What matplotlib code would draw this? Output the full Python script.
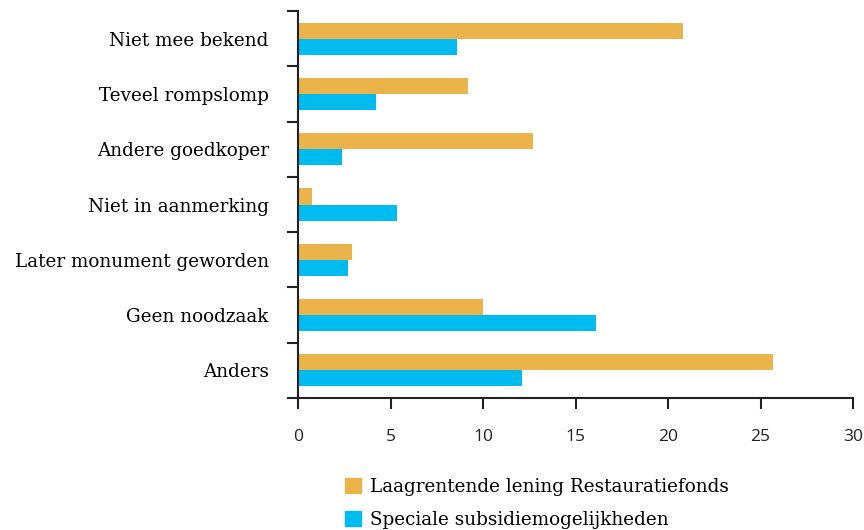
import matplotlib
matplotlib.use("Agg")
import matplotlib.pyplot as plt
import numpy as np
from matplotlib.patches import Patch

categories = ["Niet mee bekend", "Teveel rompslomp", "Andere goedkoper",
              "Niet in aanmerking", "Later monument geworden", "Geen noodzaak", "Anders"]
lening = [20.8, 9.2, 12.7, 0.75, 2.9, 10.0, 25.7]
subsidie = [8.6, 4.2, 2.4, 5.35, 2.7, 16.1, 12.1]
series_names = ["Laagrentende lening Restauratiefonds", "Speciale subsidiemogelijkheden"]
xticks = [0, 5, 10, 15, 20, 25, 30]

c_orange = "#EAB44B"
c_blue = "#00BBF0"
serif = ["DejaVu Serif"]
sans = ["Open Sans", "DejaVu Sans"]

fig = plt.figure(figsize=(8.64, 5.30), dpi=100)
ax = fig.add_axes([298/864, 1-398/530, (853-298)/864, (398-11)/530])

n = len(categories)
y = np.arange(n)
h = 0.29
ax.barh(y - h/2, lening, height=h, color=c_orange, label=series_names[0])
ax.barh(y + h/2, subsidie, height=h, color=c_blue, label=series_names[1])

ax.set_ylim(n - 0.5, -0.5)
ax.set_xlim(0, 30)
ax.set_xticks(xticks)
ax.set_xticklabels([str(t) for t in xticks], family=sans, fontsize=12.5)

ax.set_yticks(np.arange(-0.5, n, 1.0))
ax.set_yticklabels([])
ax.set_yticks(y, minor=True)
ax.set_yticklabels(categories, minor=True, family=serif, fontsize=13.2)
ax.tick_params(axis="y", which="minor", length=0, pad=21)
ax.tick_params(axis="y", which="major", length=8, width=1.5, color="#222222")
ax.tick_params(axis="x", length=8, width=1.5, color="#222222", pad=14, labelcolor="#222222")

for s in ["top", "right"]:
    ax.spines[s].set_visible(False)
for s in ["left", "bottom"]:
    ax.spines[s].set_linewidth(1.5)
    ax.spines[s].set_color("#222222")

handles = [Patch(color=c_orange), Patch(color=c_blue)]
fig.legend(handles, series_names, loc="upper left", bbox_to_anchor=(345/864, 1-478/530),
           frameon=False, prop={"family": serif, "size": 13.2},
           handlelength=0.85, handleheight=0.85, handletextpad=0.5, labelspacing=0.8,
           borderpad=0, borderaxespad=0)

fig.savefig("out.png", dpi=100)
